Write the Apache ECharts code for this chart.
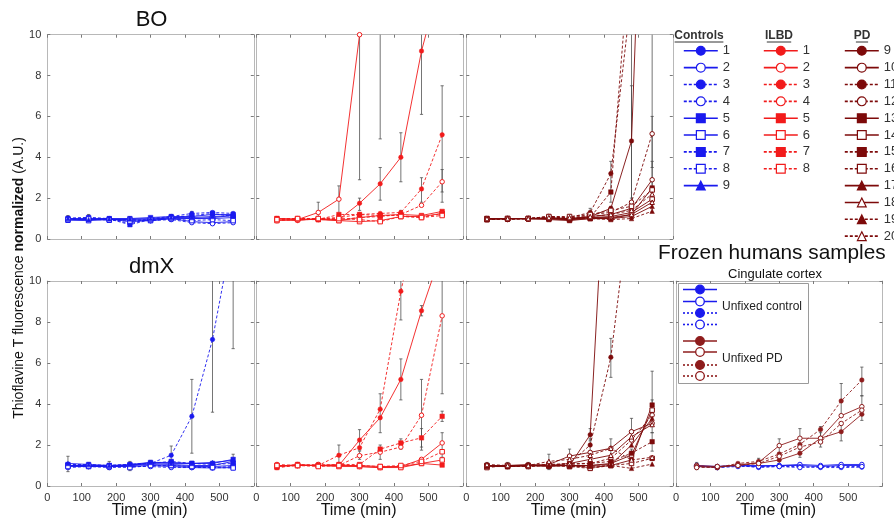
<!DOCTYPE html>
<html><head><meta charset="utf-8">
<script src="https://cdn.jsdelivr.net/npm/echarts@6/dist/echarts.min.js"></script>
<style>html,body{margin:0;padding:0;background:#fff}#c{width:894px;height:523px}</style>
</head><body><div id="c"></div>
<script>
// ---------------- data ----------------
const times = [60,120,180,240,300,360,420,480,540];
const xTickMax = 600;
const yTickMax = 10;
const controlLabels = ['1','2','3','4','5','6','7','8','9'];
const ilbdLabels = ['1','2','3','4','5','6','7','8'];
const pdLabels = ['9','10','11','12','13','14','15','16','17','18','19','20'];

const boControls = [
  [1.00,0.98,0.97,0.92,0.95,1.05,1.00,1.05,1.15],
  [0.95,0.95,0.98,0.85,0.90,1.00,0.85,0.80,0.85],
  [1.02,1.05,1.00,0.75,1.00,1.10,1.25,1.30,1.25],
  [0.98,1.00,0.95,0.95,0.90,0.95,0.80,0.75,0.80],
  [0.97,1.00,1.00,1.00,1.05,1.10,1.10,1.20,1.20],
  [0.92,0.90,0.95,0.95,0.90,1.00,1.00,1.00,1.05],
  [1.00,1.05,0.98,0.70,0.95,1.05,1.15,1.25,1.10],
  [0.95,0.98,0.92,0.88,0.95,1.00,0.90,0.95,0.90],
  [1.00,0.95,0.98,0.98,1.00,1.05,1.05,1.10,1.15]
];
const boIlbd = [
  [0.95,0.90,1.00,0.95,1.75,2.70,4.00,9.20,13.0],
  [1.00,0.95,1.30,1.95,10.0,14.0,18.0,22.0,26.0],
  [0.95,1.00,1.00,1.05,1.20,1.25,1.30,2.45,5.10],
  [0.90,0.95,0.95,0.95,1.05,1.10,1.20,1.65,2.80],
  [1.00,0.98,0.95,0.90,1.05,1.15,1.20,1.15,1.35],
  [0.90,0.95,0.98,0.90,0.85,0.90,1.10,1.10,1.25],
  [1.00,1.00,0.95,1.20,1.20,1.15,1.15,1.05,1.25],
  [0.95,1.00,1.00,1.00,0.95,0.85,1.10,1.05,1.15]
];
const boPd = [
  [1.00,1.00,0.98,1.00,0.95,1.10,1.50,4.80,32.0],
  [1.00,1.00,1.00,1.05,1.00,1.10,1.20,1.50,2.90],
  [0.95,1.00,1.00,1.10,1.05,1.30,3.20,12.0,20.0],
  [1.00,0.95,1.00,1.10,1.00,1.20,1.30,1.80,5.15],
  [0.95,0.98,1.00,0.95,0.90,1.00,1.00,1.20,2.50],
  [1.00,1.00,1.00,1.00,0.95,1.05,1.10,1.30,1.95],
  [1.00,1.00,1.00,1.05,1.00,1.05,2.30,15.0,25.0],
  [0.95,1.00,1.00,1.10,1.10,1.20,1.40,1.60,2.40],
  [1.00,1.00,1.00,1.00,0.95,1.00,1.00,1.10,1.60],
  [1.00,1.00,1.00,1.00,1.00,1.05,1.05,1.20,1.80],
  [0.95,1.00,1.00,1.00,1.00,1.00,0.95,1.00,1.36],
  [1.00,1.00,1.00,1.05,1.05,1.10,1.20,1.40,2.20]
];
const dmxControls = [
  [1.00,1.00,0.95,1.00,1.10,1.05,1.00,1.00,1.20],
  [0.95,0.95,0.95,0.95,1.00,0.95,0.90,0.88,0.90],
  [1.05,1.00,1.00,1.05,1.10,1.50,3.40,7.15,12.5],
  [0.90,0.95,0.90,0.95,0.95,0.90,0.90,0.90,0.95],
  [1.00,1.00,1.00,1.00,1.15,1.15,1.10,1.10,1.30],
  [1.00,0.95,0.95,1.00,1.05,1.00,0.95,0.95,1.00],
  [1.05,1.05,1.00,1.05,1.10,1.20,1.10,1.05,1.10],
  [0.95,0.98,0.95,0.90,1.00,1.00,0.95,0.90,0.88],
  [1.10,1.05,1.00,1.05,1.15,1.10,1.10,1.15,1.25]
];
const dmxIlbd = [
  [0.95,1.05,1.00,1.00,2.24,3.33,5.20,8.55,11.5],
  [1.00,1.00,1.00,1.05,0.95,0.90,0.95,1.30,2.10],
  [0.90,1.00,1.00,1.50,1.87,3.75,9.50,14.0,18.0],
  [1.05,1.00,1.05,1.00,1.48,1.65,1.90,3.45,8.30],
  [0.95,1.00,1.00,1.00,1.00,0.95,0.95,1.10,1.02],
  [1.00,1.00,1.00,0.95,0.95,0.90,0.90,1.10,1.27],
  [0.90,1.05,1.00,1.05,1.05,1.80,2.10,2.35,3.40],
  [1.00,1.00,0.95,1.00,1.00,0.95,1.00,1.20,1.67]
];
const dmxPd = [
  [1.00,1.00,0.98,1.00,1.00,2.50,21.0,35.0,45.0],
  [1.00,0.95,1.00,1.05,1.46,1.64,1.84,2.65,3.06],
  [0.95,1.00,1.00,1.05,1.10,2.00,6.28,14.5,22.0],
  [1.00,1.00,0.95,1.00,1.10,1.10,1.35,2.24,3.46],
  [0.95,0.95,1.00,0.95,1.00,0.90,1.00,1.27,3.95],
  [1.00,1.00,1.00,1.00,1.00,1.00,1.10,1.51,3.70],
  [1.00,0.95,1.00,1.00,1.05,1.10,1.20,1.60,2.16],
  [0.90,1.00,0.95,1.05,0.95,0.86,1.00,1.10,1.35],
  [1.00,0.95,1.00,1.00,1.00,1.00,1.05,2.00,3.30],
  [1.00,1.00,1.05,1.00,1.10,1.30,1.50,2.40,3.00],
  [0.95,0.95,1.00,1.00,0.95,0.95,1.00,0.86,1.07],
  [1.05,1.00,1.00,1.20,1.30,1.50,1.84,1.27,1.40]
];
const frozenControl = [
  [0.95,0.95,1.00,1.00,1.00,1.00,0.95,1.00,1.00],
  [1.00,0.95,1.00,0.95,1.00,1.05,1.00,1.05,1.05],
  [1.00,0.90,1.00,0.90,0.95,0.95,0.90,0.90,0.92],
  [0.95,0.90,0.95,0.95,0.95,0.90,0.95,0.95,0.95]
];
const frozenPd = [
  [0.95,0.90,1.05,1.10,1.27,1.60,2.33,2.65,3.50],
  [1.00,0.95,1.00,1.15,1.97,2.33,2.33,3.43,3.87],
  [0.95,0.90,1.10,1.20,1.56,2.03,2.76,4.15,5.17],
  [0.90,0.95,1.00,1.10,1.45,1.90,2.15,3.05,3.70]
];
// error bars: [time, low, high]
const boControlsErr = [[60,0.85,1.15],[120,0.85,1.2],[240,0.65,1.1],[300,0.85,1.1],[360,0.95,1.2],[420,0.85,1.35],[480,0.8,1.35],[540,0.8,1.3]];
const boIlbdErr = [[180,1.0,1.8],[240,1.25,2.6],[240,0.9,1.2],[300,2.9,17],[300,1.4,2.0],[360,4.9,21],[360,1.9,3.5],[420,2.8,5.2],[420,1.0,1.4],[480,6.1,12.3],[480,1.8,3.0],[540,1.8,7.5],[540,2.3,3.4]];
const boPdErr = [[240,0.9,1.2],[300,0.85,1.2],[360,1.1,1.5],[420,1.8,3.8],[420,1.2,1.6],[480,1.6,40],[480,2.0,7.5],[540,1.3,50],[540,3.5,6.0],[540,2.0,3.8]];
const dmxControlsErr = [[60,0.7,1.45],[120,0.85,1.15],[180,0.8,1.2],[240,0.75,1.2],[300,1.0,1.25],[360,1.1,1.95],[420,1.6,5.2],[420,0.9,1.2],[480,3.6,10.7],[480,0.9,1.2],[540,6.7,18.3],[540,1.0,1.55]];
const dmxIlbdErr = [[120,0.95,1.15],[180,0.9,1.15],[240,1.1,2.0],[300,1.75,2.75],[300,1.3,1.7],[360,2.6,4.5],[360,1.3,2.0],[420,8.1,10.9],[420,4.2,6.2],[420,1.8,2.3],[480,8.3,8.8],[480,1.75,5.2],[480,1.9,2.8],[540,4.5,12.1],[540,3.15,3.65],[540,1.4,2.6]];
const dmxPdErr = [[60,0.85,1.15],[120,0.85,1.15],[180,0.85,1.15],[240,0.8,1.55],[300,1.0,1.8],[360,1.3,2.3],[360,2.2,2.8],[420,5.3,7.2],[420,1.4,2.3],[480,2.2,3.3],[480,1.1,1.8],[540,2.6,5.6],[540,3.0,4.2],[540,1.7,2.6]];
const frozenErr = [[60,0.8,1.15],[120,0.8,1.05],[240,1.05,1.35],[300,1.6,2.3],[300,1.1,1.45],[360,1.8,2.8],[360,1.4,1.8],[420,2.1,2.9],[420,1.9,2.6],[480,3.4,5.0],[480,2.2,3.0],[540,4.4,5.8],[540,3.2,4.4]];

// ---------------- styles ----------------
const FONT = 'Liberation Sans, Arial, Helvetica, sans-serif';
const BLUE = '#1a1aee', RED = '#f21b1b', DARK = '#7d0a0a', FDARK = '#8e1c1c';
const SYM = ['circle','circle','circle','circle','rect','rect','rect','rect','triangle','triangle','triangle','triangle'];
const OPEN = [false,true,false,true,false,true,false,true,false,true,false,true];
const DOT = [3,2];
const LT = ['solid','solid',DOT,DOT,'solid','solid',DOT,DOT,'solid','solid',DOT,DOT];

const colLefts = [47.3, 256.3, 466.3, 676];
const colW = 206.5;
const rowTops = [34.7, 281];
const rowH = [204.3, 205];
const panels = [[0,0],[0,1],[0,2],[1,0],[1,1],[1,2],[1,3]];

const grid = [], xAxis = [], yAxis = [], series = [];
panels.forEach(([r,c], g) => {
  grid.push({left: colLefts[c], top: rowTops[r], width: colW, height: rowH[r], show: false});
  const lineS = {show:true, onZero:false, lineStyle:{color:'#b8b8b8', width:1}};
  const tickS = {show:true, inside:true, length:3, lineStyle:{color:'#7a7a7a'}};
  const lab = {fontSize:11, color:'#333', fontFamily: FONT};
  xAxis.push({gridIndex:g, type:'value', min:0, max:xTickMax, interval:100, position:'bottom',
    axisLine:lineS, axisTick:tickS, splitLine:{show:false},
    axisLabel:Object.assign({show: r===1, margin:6, formatter: v => v===xTickMax ? '' : String(v)}, lab)});
  xAxis.push({gridIndex:g, type:'value', min:0, max:xTickMax, interval:100, position:'top',
    axisLine:lineS, axisTick:tickS, splitLine:{show:false}, axisLabel:{show:false}});
  yAxis.push({gridIndex:g, type:'value', min:0, max:yTickMax, interval:2, position:'left',
    axisLine:lineS, axisTick:tickS, splitLine:{show:false},
    axisLabel:Object.assign({show: c===0, margin:6}, lab)});
  yAxis.push({gridIndex:g, type:'value', min:0, max:yTickMax, interval:2, position:'right',
    axisLine:lineS, axisTick:tickS, splitLine:{show:false}, axisLabel:{show:false}});
});

function errSeries(g, bars) {
  return {type:'custom', xAxisIndex:2*g, yAxisIndex:2*g, clip:true, z:1, silent:true,
    data: bars, encode:{x:0, y:[1,2]},
    renderItem(params, api) {
      const x = api.value(0), lo = api.value(1), hi = api.value(2);
      const p1 = api.coord([x, lo]), p2 = api.coord([x, hi]);
      const w = 1.6, st = {stroke:'#4a4a4a', lineWidth:0.9, opacity:0.85};
      return {type:'group', children:[
        {type:'line', shape:{x1:p1[0], y1:p1[1], x2:p2[0], y2:p2[1]}, style:st},
        {type:'line', shape:{x1:p1[0]-w, y1:p1[1], x2:p1[0]+w, y2:p1[1]}, style:st},
        {type:'line', shape:{x1:p2[0]-w, y1:p2[1], x2:p2[0]+w, y2:p2[1]}, style:st}
      ]};
    }};
}
function lineSeries(g, name, vals, color, i) {
  return {type:'line', name:name, xAxisIndex:2*g, yAxisIndex:2*g, z:3,
    data: times.map((t,k) => [t, vals[k]]), clip:true,
    symbol: SYM[i], symbolSize: 4.5, showSymbol:true,
    itemStyle: OPEN[i] ? {color:'#ffffff', borderColor:color, borderWidth:1} : {color:color, borderColor:color, borderWidth:0.5},
    lineStyle:{color:color, width:0.9, type: LT[i]},
    emphasis:{disabled:true}};
}

series.push(errSeries(0, boControlsErr), errSeries(1, boIlbdErr), errSeries(2, boPdErr),
            errSeries(3, dmxControlsErr), errSeries(4, dmxIlbdErr), errSeries(5, dmxPdErr), errSeries(6, frozenErr));
boControls.forEach((v,i) => series.push(lineSeries(0, 'C'+controlLabels[i], v, BLUE, i)));
boIlbd.forEach((v,i) => series.push(lineSeries(1, 'I'+ilbdLabels[i], v, RED, i)));
boPd.forEach((v,i) => series.push(lineSeries(2, 'P'+pdLabels[i], v, DARK, i)));
dmxControls.forEach((v,i) => series.push(lineSeries(3, 'C'+controlLabels[i], v, BLUE, i)));
dmxIlbd.forEach((v,i) => series.push(lineSeries(4, 'I'+ilbdLabels[i], v, RED, i)));
dmxPd.forEach((v,i) => series.push(lineSeries(5, 'P'+pdLabels[i], v, DARK, i)));
frozenControl.forEach((v,i) => series.push(lineSeries(6, 'FC'+i, v, BLUE, i)));
frozenPd.forEach((v,i) => series.push(lineSeries(6, 'FP'+i, v, FDARK, i)));

function legendCfg(names, left) {
  return {data:names, left:left, top:44.3, orient:'vertical', itemWidth:34, itemHeight:11,
    itemGap:3.85, padding:0, selectedMode:false,
    formatter: n => n.slice(1), lineStyle:{width:1.6}, itemStyle:{borderWidth:1.2},
    textStyle:{fontSize:13, color:'#333', fontFamily:FONT}};
}

// graphic: titles, labels, legend headers, frozen legend
const G = [];
const txt = (x, y, text, size, extra) => G.push({type:'text', x:x, y:y, z:10,
  style:Object.assign({text:text, fontSize:size, fontFamily:FONT, fill:'#111', align:'center', verticalAlign:'middle'}, extra || {})});
txt(colLefts[0] + colW/2 + 1, 20, 'BO', 22);
txt(colLefts[0] + colW/2 + 1, 267, 'dmX', 22);
txt(658, 253, 'Frozen humans samples', 20.8, {align:'left'});
txt(775, 274, 'Cingulate cortex', 13);
[0,1,2,3].forEach(c => txt(colLefts[c] + colW/2 - 1, 510.5, 'Time (min)', 16));
G.push({type:'text', x:19, y:278, rotation:Math.PI/2, z:10,
  style:{text:'{a|Thioflavine T fluorescence }{b|normalized}{a| (A.U.)}', align:'center', verticalAlign:'middle',
    rich:{a:{fontSize:14, fontFamily:FONT, fill:'#111'}, b:{fontSize:14, fontFamily:FONT, fontWeight:'bold', fill:'#111'}}}});
// legend headers with underline
[[699,'Controls'],[779,'ILBD'],[862,'PD']].forEach(([x,t]) => {
  txt(x, 36, t, 12, {fontWeight:'bold', fill:'#333'});
  const w = t.length * 6.1;
  G.push({type:'line', z:10, shape:{x1:x-w/2, y1:42, x2:x+w/2, y2:42}, style:{stroke:'#333', lineWidth:1}});
});
// frozen legend box
G.push({type:'rect', z:9, shape:{x:678.5, y:283.5, width:130, height:100}, style:{fill:'#fff', stroke:'#9a9a9a', lineWidth:1}});
const fRowsC = [289.5, 301.5, 313, 324.5];
const fRowsP = [341, 352, 365, 376];
function fEntry(y, color, filled, dotted) {
  G.push({type:'line', z:11, shape:{x1:683, y1:y, x2:717, y2:y}, style:{stroke:color, lineWidth:1.6, lineDash: dotted ? [2,2] : null}});
  G.push({type:'circle', z:12, shape:{cx:700, cy:y, r:4.3}, style:{fill: filled ? color : '#fff', stroke:color, lineWidth:1.3}});
}
[[true,false],[false,false],[true,true],[false,true]].forEach(([f,d],k) => {
  fEntry(fRowsC[k], BLUE, f, d);
  fEntry(fRowsP[k], FDARK, f, d);
});
txt(722, 307, 'Unfixed control', 12, {align:'left', fill:'#222'});
txt(722, 358.5, 'Unfixed PD', 12, {align:'left', fill:'#222'});

const chart = echarts.init(document.getElementById('c'), null, {renderer:'canvas'});
chart.setOption({
  animation:false, backgroundColor:'#fff',
  textStyle:{fontFamily:FONT},
  grid:grid, xAxis:xAxis, yAxis:yAxis, series:series,
  legend:[legendCfg(controlLabels.map(s=>'C'+s), 683), legendCfg(ilbdLabels.map(s=>'I'+s), 763), legendCfg(pdLabels.map(s=>'P'+s), 844)],
  graphic:G
});
</script></body></html>
